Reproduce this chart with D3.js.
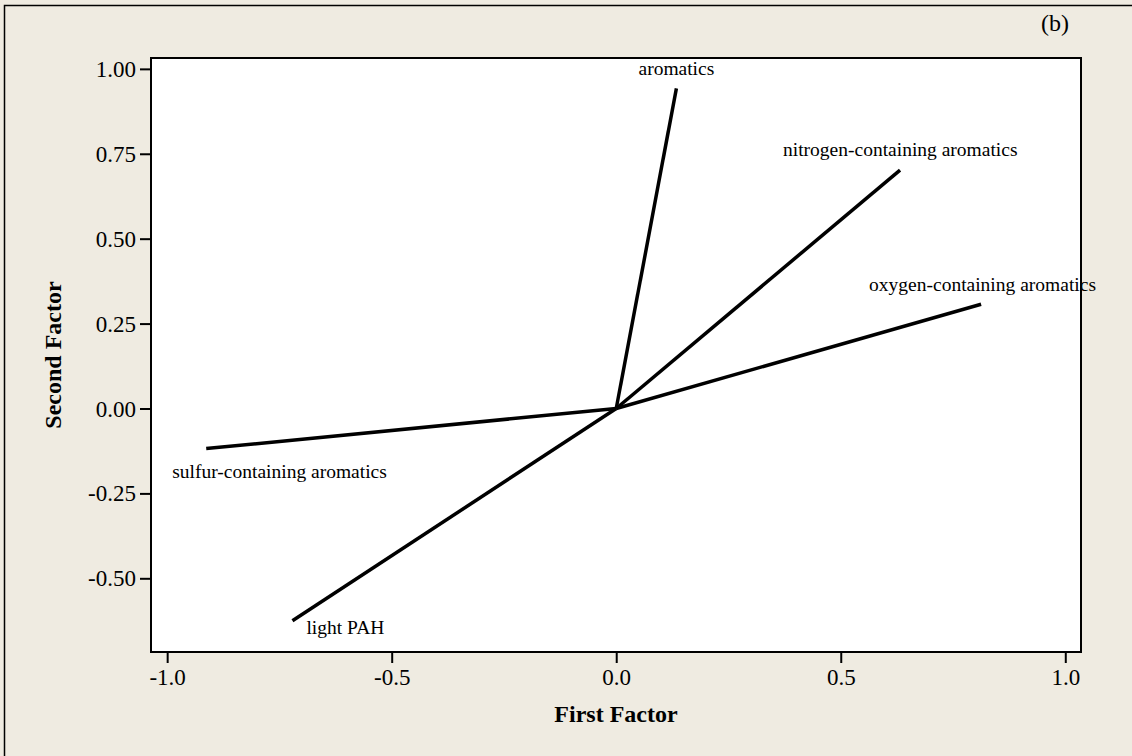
<!DOCTYPE html>
<html>
<head>
<meta charset="utf-8">
<script src="https://cdn.jsdelivr.net/npm/d3@7"></script>
<style>
  html, body { margin: 0; padding: 0; background: #EFEBE1; }
  svg { display: block; }
  text { font-family: "Liberation Serif", "Times New Roman", serif; fill: #000; }
</style>
</head>
<body>
<svg id="chart" width="1132" height="756"></svg>
<script>
// Factor loadings of each compound class on the first two factors
const variables = ["aromatics", "nitrogen-containing aromatics", "oxygen-containing aromatics",
                   "sulfur-containing aromatics", "light PAH"];
const firstFactor  = [0.134, 0.632, 0.8125, -0.913, -0.721];
const secondFactor = [0.9425, 0.702, 0.307, -0.118, -0.625];

const xTicks = [-1.0, -0.5, 0.0, 0.5, 1.0];
const yTicks = [-0.50, -0.25, 0.00, 0.25, 0.50, 0.75, 1.00];

// Label placement relative to the end of each loading vector (px)
const labelDx = [0, -117, -112, -34, 14];
const labelDy = [-13, -14.5, -13, 29, 13];
const labelAnchor = ["middle", "start", "start", "start", "start"];

const W = 1132, H = 756;
const plot = { left: 151, top: 58, right: 1081, bottom: 652 };

const svg = d3.select("#chart");

// Outer frame
svg.append("rect")
  .attr("x", 4.5).attr("y", 5.5)
  .attr("width", W + 10).attr("height", H + 10)
  .attr("fill", "#EFEBE1").attr("stroke", "#000").attr("stroke-width", 1.5);

const x = d3.scaleLinear().domain([-1.036, 1.035]).range([plot.left, plot.right]);
const y = d3.scaleLinear().domain([-0.717, 1.032]).range([plot.bottom, plot.top]);

// Plain hyphen for negative numbers
const fmt = p => v => d3.format(p)(v).replace("\u2212", "-");

// Plot area
svg.append("rect")
  .attr("x", plot.left).attr("y", plot.top)
  .attr("width", plot.right - plot.left).attr("height", plot.bottom - plot.top)
  .attr("fill", "#fff").attr("stroke", "#000").attr("stroke-width", 2);

// Axes
const xAxis = svg.append("g")
  .attr("transform", `translate(0,${plot.bottom + 1})`)
  .call(d3.axisBottom(x).tickValues(xTicks).tickFormat(fmt(".1f")).tickSize(10).tickSizeOuter(0).tickPadding(5));
const yAxis = svg.append("g")
  .attr("transform", `translate(${plot.left - 1},0)`)
  .call(d3.axisLeft(y).tickValues(yTicks).tickFormat(fmt(".2f")).tickSize(10).tickSizeOuter(0).tickPadding(4));

[xAxis, yAxis].forEach(g => {
  g.select(".domain").remove();
  g.selectAll(".tick line").attr("stroke", "#000").attr("stroke-width", 2);
  g.selectAll(".tick text")
    .style("font-family", "'Liberation Serif', 'Times New Roman', serif")
    .style("font-size", "23px").attr("fill", "#111");
});
yAxis.selectAll(".tick text").attr("dy", "0.33em");
xAxis.selectAll(".tick text").attr("dy", "0.76em");

// Axis titles
svg.append("text")
  .attr("x", (plot.left + plot.right) / 2).attr("y", 722)
  .attr("text-anchor", "middle")
  .style("font-size", "24px").style("font-weight", "bold")
  .text("First Factor");

svg.append("text")
  .attr("transform", `translate(61,${(plot.top + plot.bottom) / 2}) rotate(-90)`)
  .attr("text-anchor", "middle")
  .style("font-size", "24px").style("font-weight", "bold")
  .text("Second Factor");

// Panel tag
svg.append("text")
  .attr("x", 1069).attr("y", 31)
  .attr("text-anchor", "end")
  .style("font-size", "24px")
  .text("(b)");

// Loading vectors from the origin
const data = variables.map((name, i) => ({
  name, f1: firstFactor[i], f2: secondFactor[i],
  dx: labelDx[i], dy: labelDy[i], anchor: labelAnchor[i]
}));

svg.append("g").selectAll("line")
  .data(data).join("line")
  .attr("x1", x(0)).attr("y1", y(0))
  .attr("x2", d => x(d.f1)).attr("y2", d => y(d.f2))
  .attr("stroke", "#000").attr("stroke-width", 3.5).attr("stroke-linecap", "butt");

svg.append("g").selectAll("text")
  .data(data).join("text")
  .attr("x", d => x(d.f1) + d.dx).attr("y", d => y(d.f2) + d.dy)
  .attr("text-anchor", d => d.anchor)
  .style("font-size", "19.5px")
  .text(d => d.name);
</script>
</body>
</html>
